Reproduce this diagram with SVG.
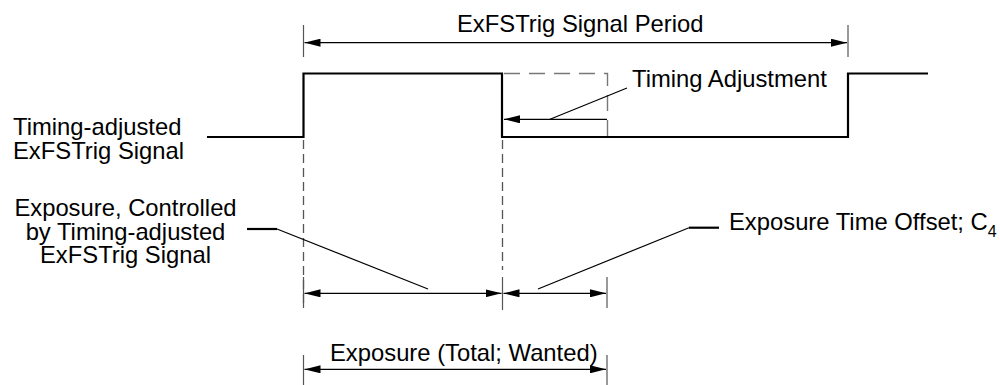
<svg xmlns="http://www.w3.org/2000/svg" width="1000" height="385" viewBox="0 0 1000 385">
<style>
text{font-family:"Liberation Sans",Arial,Helvetica,sans-serif;font-size:23.8px;fill:#000}
.sig{fill:none;stroke:#000;stroke-width:2.2}
.thin{fill:none;stroke:#000;stroke-width:1.2}
.tick{fill:none;stroke:#555;stroke-width:1.2}
.dash{fill:none;stroke:#555;stroke-width:1.3;stroke-dasharray:9 5}
.dashbox{fill:none;stroke:#777;stroke-width:1.4;stroke-dasharray:16 9}
.lead{fill:none;stroke:#000;stroke-width:1.2}
.leadh{fill:none;stroke:#000;stroke-width:2.2}
.arr{marker-start:url(#ah);marker-end:url(#ah)}
.arrE{marker-end:url(#ah)}
</style>
<defs>
<marker id="ah" viewBox="0 0 16 8" refX="16" refY="4" markerWidth="16" markerHeight="8" markerUnits="userSpaceOnUse" orient="auto-start-reverse">
<path d="M0,0 L16,4 L0,8 z" fill="#000"/>
</marker>
</defs>
<rect width="1000" height="385" fill="#fff"/>

<g id="signal">
<path class="sig" d="M207,137 H303.5 V73.5 H502 V137 H848 V73.5 H928"/>
<path class="dashbox" d="M504,73.5 H607.5 V137"/>
</g>

<g id="guides">
<line class="tick" x1="303.5" y1="25" x2="303.5" y2="57"/>
<line class="tick" x1="848" y1="25" x2="848" y2="57"/>
<line class="dash" x1="303.5" y1="140" x2="303.5" y2="308"/>
<line class="dash" x1="502.5" y1="140" x2="502.5" y2="270"/>
<line class="tick" x1="303.5" y1="277" x2="303.5" y2="308"/>
<line class="tick" x1="502.5" y1="277" x2="502.5" y2="310"/>
<line class="tick" x1="607" y1="277" x2="607" y2="308"/>
<line class="tick" x1="303.5" y1="355" x2="303.5" y2="385"/>
<line class="tick" x1="607" y1="355" x2="607" y2="385"/>
</g>

<g id="label-period">
<text x="457" y="32">ExFSTrig Signal Period</text>
</g>
<g id="label-timing-adjustment">
<text x="632" y="87">Timing Adjustment</text>
</g>
<g id="label-signal">
<text x="13" y="135">Timing-adjusted<tspan x="13" dy="24">ExFSTrig Signal</tspan></text>
</g>
<g id="label-exposure-controlled">
<text x="125.5" y="216" text-anchor="middle">Exposure, Controlled<tspan x="125.5" dy="24">by Timing-adjusted</tspan><tspan x="125.5" dy="23">ExFSTrig Signal</tspan></text>
</g>
<g id="label-offset">
<text x="729" y="230">Exposure Time Offset; C<tspan font-size="16" dy="7">4</tspan></text>
</g>
<g id="label-total">
<text x="330" y="361">Exposure (Total; Wanted)</text>
</g>

<g id="connectors">
<line class="thin arr" x1="304.5" y1="42.7" x2="847" y2="42.7"/>
<line class="thin arrE" x1="607" y1="119.3" x2="504" y2="119.3"/>
<line class="lead" x1="550" y1="119.3" x2="627" y2="88"/>
<line class="thin arr" x1="304.5" y1="293.3" x2="501.5" y2="293.3"/>
<line class="thin arr" x1="503.5" y1="293.3" x2="606" y2="293.3"/>
<line class="thin arr" x1="304.5" y1="369.3" x2="606" y2="369.3"/>
<line class="leadh" x1="247" y1="229" x2="277" y2="229"/>
<line class="lead" x1="277" y1="229" x2="428" y2="289"/>
<line class="leadh" x1="689" y1="227.7" x2="719" y2="227.7"/>
<line class="lead" x1="689" y1="227.7" x2="538" y2="289"/>
</g>
</svg>
